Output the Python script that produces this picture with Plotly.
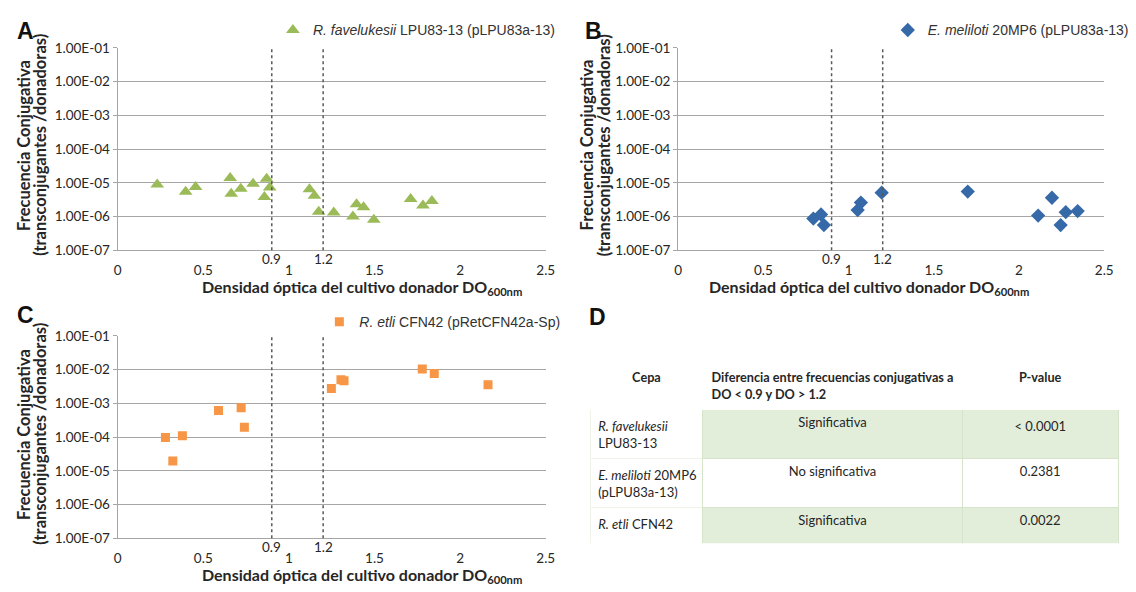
import plotly.graph_objects as go

W, H = 1136, 592

# ---------------- data ----------------
a_name = "<i>R. favelukesii</i> LPU83-13 (pLPU83a-13)"
a_x = [0.231, 0.397, 0.455, 0.657, 0.663, 0.719, 0.791, 0.870, 0.857, 0.888, 1.120,
       1.149, 1.174, 1.262, 1.374, 1.395, 1.436, 1.496, 1.711, 1.783, 1.835]
a_y = [8.9e-6, 5.4e-6, 7.5e-6, 1.38e-5, 4.7e-6, 6.7e-6, 9.3e-6, 1.32e-5, 3.8e-6, 7.2e-6, 6.4e-6,
       4.1e-6, 1.38e-6, 1.32e-6, 1.0e-6, 2.3e-6, 1.9e-6, 8.1e-7, 3.3e-6, 2.14e-6, 2.9e-6]

b_name = "<i>E. meliloti</i> 20MP6 (pLPU83a-13)"
b_x = [0.793, 0.838, 0.855, 1.053, 1.072, 1.194, 1.699, 2.112, 2.193, 2.244, 2.274, 2.344]
b_y = [8.7e-7, 1.15e-6, 5.6e-7, 1.55e-6, 2.6e-6, 5.1e-6, 5.5e-6, 1.07e-6, 3.6e-6, 5.6e-7, 1.35e-6, 1.45e-6]

c_name = "<i>R. etli</i> CFN42 (pRetCFN42a-Sp)"
c_x = [0.279, 0.322, 0.378, 0.589, 0.721, 0.740, 1.248, 1.304, 1.322, 1.779, 1.849, 2.163]
c_y = [9.8e-5, 1.95e-5, 1.1e-4, 6.1e-4, 7.4e-4, 1.94e-4, 2.74e-3, 5.0e-3, 4.7e-3, 1.05e-2, 7.7e-3, 3.55e-3]

do_limits = [0.9, 1.2]
x_ticks = [0, 0.5, 1, 1.5, 2, 2.5]
x_ticktext = ["0", "0.5", "1", "1.5", "2", "2.5"]
y_ticks = [1e-7, 1e-6, 1e-5, 1e-4, 1e-3, 1e-2, 1e-1]
y_ticktext = ["1.00E-07", "1.00E-06", "1.00E-05", "1.00E-04", "1.00E-03", "1.00E-02", "1.00E-01"]

tbl_header = ["<b>Cepa</b>",
              "<b>Diferencia entre frecuencias conjugativas a<br>DO &lt; 0.9 y DO &gt; 1.2</b>",
              "<b>P-value</b>"]
tbl_cepa = ["<i>R. favelukesii</i><br>LPU83-13", "<i>E. meliloti</i> 20MP6<br>(pLPU83a-13)", "<i>R. etli</i> CFN42"]
tbl_dif = ["Significativa", "No significativa", "Significativa"]
tbl_p = ["&lt; 0.0001", "0.2381", "0.0022"]

# ---------------- style ----------------
GRID = "#A6A6A6"
GREEN = "#9BBB59"
BLUE = "#3569A8"
ORANGE = "#F79646"
LIGHT = "#E3EEDA"
LINE = "#D5E4CA"
TXT = "#262626"


def px(x):
    return x / W


def py(y):
    return 1 - y / H


panels = [
    dict(s="", xr=(115, 548), yr=(41, 249), xt=362, yl=(20, 37), ym=141),
    dict(s="2", xr=(682, 1113), yr=(41, 249), xt=875, yl=(590, 607), ym=141),
    dict(s="3", xr=(115, 548), yr=(337, 545), xt=362, yl=(20, 37), ym=438),
]

fig = go.Figure()

fig.add_trace(go.Scatter(x=a_x, y=a_y, mode="markers", name=a_name, legend="legend",
                         marker=dict(symbol="triangle-up", size=12, color=GREEN),
                         xaxis="x", yaxis="y"))
fig.add_trace(go.Scatter(x=b_x, y=b_y, mode="markers", name=b_name, legend="legend2",
                         marker=dict(symbol="diamond", size=11, color=BLUE),
                         xaxis="x2", yaxis="y2"))
fig.add_trace(go.Scatter(x=c_x, y=c_y, mode="markers", name=c_name, legend="legend3",
                         marker=dict(symbol="square", size=9, color=ORANGE),
                         xaxis="x3", yaxis="y3"))

fig.add_trace(go.Table(
    domain=dict(x=[px(593), px(1128)], y=[py(551), py(363)]),
    columnwidth=[114, 263, 158],
    header=dict(values=tbl_header, height=41, fill_color="white", line_color="white",
                align="center", font=dict(family="Lato", size=12.7, color=TXT)),
    cells=dict(values=[tbl_cepa, tbl_dif, tbl_p], height=49,
               fill_color=[["white", "white", "white"],
                           [LIGHT, "white", LIGHT],
                           [LIGHT, "white", LIGHT]],
               line_color=[["#EEF4E9"] * 3, [LINE] * 3, [LINE] * 3],
               align=["left", "center", "center"],
               font=dict(family="Lato", size=13, color=TXT)),
))

layout = dict(
    width=W, height=H, margin=dict(l=0, r=0, t=0, b=0),
    paper_bgcolor="white", plot_bgcolor="white",
    showlegend=True,
)

annotations = []
shapes = []
for p in panels:
    s = p["s"]
    xa = "xaxis" + s
    ya = "yaxis" + s
    layout[xa] = dict(domain=[px(p["xr"][0]), px(p["xr"][1])], range=[0, 2.5],
                      anchor="y" + s, tickvals=x_ticks, ticktext=x_ticktext,
                      showgrid=False, showline=True, linecolor=GRID, linewidth=1.3,
                      ticks="", ticklabelstandoff=7, zeroline=False,
                      tickfont=dict(family="Lato", size=13.5, color=TXT))
    layout[ya] = dict(domain=[py(p["yr"][1]), py(p["yr"][0])], type="log", range=[-7, -1],
                      anchor="x" + s, tickvals=y_ticks, ticktext=y_ticktext,
                      showgrid=True, gridcolor=GRID, gridwidth=1.3,
                      showline=True, linecolor=GRID, linewidth=1.3,
                      ticks="outside", ticklen=4, tickcolor=GRID, zeroline=False,
                      tickfont=dict(family="Lato", size=13.5, color=TXT))
    for v in do_limits:
        shapes.append(dict(type="line", xref="x" + s, yref="y" + s + " domain",
                           x0=v, x1=v, y0=0, y1=1,
                           line=dict(color="#595959", width=1.5, dash="dot")))
        annotations.append(dict(xref="x" + s, yref="paper", x=v, y=py(p["yr"][1] + 9),
                                text=str(v), showarrow=False, xanchor="center", yanchor="middle",
                                font=dict(family="Lato", size=13.5, color=TXT)))
    annotations.append(dict(xref="paper", yref="paper", x=px(p["xt"]), y=py(p["yr"][1] + 38),
                            text="<b>Densidad óptica del cultivo donador DO<sub>600nm</sub></b>",
                            showarrow=False, xanchor="center", yanchor="middle",
                            font=dict(family="Lato", size=16, color=TXT)))
    for lx, line in zip(p["yl"], ["Frecuencia Conjugativa", "(transconjugantes /donadoras)"]):
        annotations.append(dict(xref="paper", yref="paper", x=px(lx), y=py(p["ym"]), text="<b>" + line + "</b>",
                                textangle=-90, showarrow=False, xanchor="center", yanchor="middle",
                                font=dict(family="Lato", size=16.5, color=TXT)))

for letter, lx, ly in [("A", 22, 24), ("B", 596, 24), ("C", 22, 316), ("D", 600, 318)]:
    annotations.append(dict(xref="paper", yref="paper", x=px(lx), y=py(ly), text="<b>" + letter + "</b>",
                            showarrow=False, xanchor="center", yanchor="middle",
                            font=dict(family="Liberation Sans", size=23, color="#111111")))

leg_font = dict(family="Liberation Sans", size=14, color="#333333")
layout["legend"] = dict(x=px(272), y=py(23), xanchor="left", yanchor="middle", font=leg_font,
                        bgcolor="rgba(0,0,0,0)", itemwidth=30)
layout["legend2"] = dict(x=px(894), y=py(23), xanchor="left", yanchor="middle", font=leg_font,
                         bgcolor="rgba(0,0,0,0)", itemwidth=30)
layout["legend3"] = dict(x=px(319), y=py(323), xanchor="left", yanchor="middle", font=leg_font,
                         bgcolor="rgba(0,0,0,0)", itemwidth=30)
layout["annotations"] = annotations
layout["shapes"] = shapes

fig.update_layout(**layout)
fig.write_html("out.html")
